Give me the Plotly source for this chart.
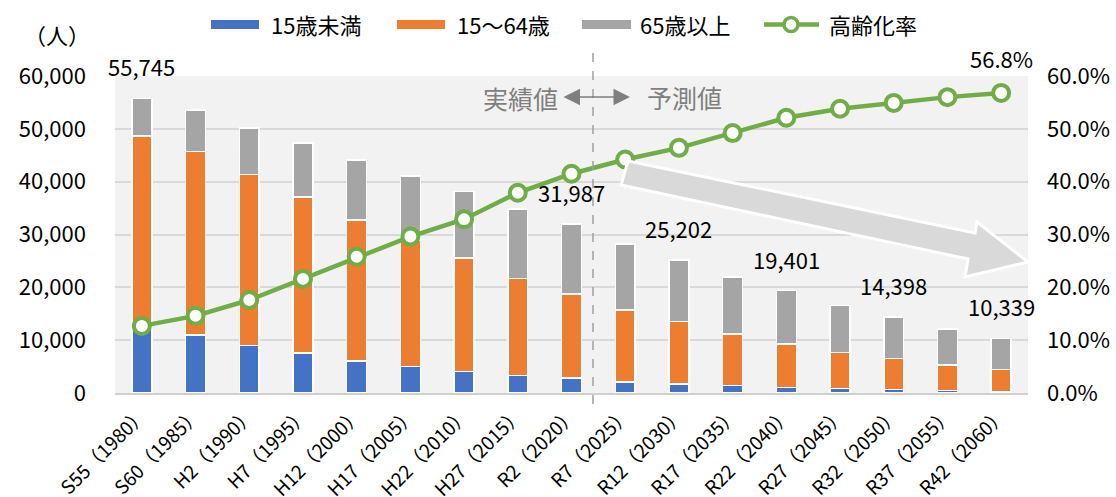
import plotly.graph_objects as go

# ---------------- data ----------------
categories = ["S55（1980）", "S60（1985）", "H2（1990）", "H7（1995）", "H12（2000）",
              "H17（2005）", "H22（2010）", "H27（2015）", "R2（2020）", "R7（2025）",
              "R12（2030）", "R17（2035）", "R22（2040）", "R27（2045）", "R32（2050）",
              "R37（2055）", "R42（2060）"]
young = [12300, 11020, 9000, 7560, 6100, 5030, 4080, 3330, 2840, 2080,
         1700, 1380, 1060, 810, 620, 490, 300]
working = [36365, 34712, 32365, 29523, 26622, 23890, 21492, 18306, 15872, 13639,
           11808, 9791, 8233, 6841, 5873, 4834, 4166]
elderly = [7080, 7818, 8835, 10217, 11378, 12160, 12538, 13204, 13275, 12451,
           11694, 10819, 10108, 8909, 7905, 6776, 5873]
rate = [12.7, 14.6, 17.6, 21.6, 25.8, 29.6, 32.9, 37.9, 41.5, 44.2,
        46.4, 49.2, 52.1, 53.8, 54.9, 56.0, 56.8]
labelled_idx = [0, 8, 10, 12, 14, 16]
series_names = ["15歳未満", "15～64歳", "65歳以上", "高齢化率"]

# ---------------- style ----------------
FONT = "Noto Sans CJK JP"
BLUE, ORANGE, GRAY, GREEN = "#4472C4", "#ED7D31", "#A5A5A5", "#70AD47"
W, H = 1116, 497
ML, MR, MT, MB = 115, 88, 76, 104
PW, PH = W - ML - MR, H - MT - MB


def px(X):
    return (X - ML) / PW


def py(Y):
    return (H - MB - Y) / PH


fig = go.Figure()
for vals, name, col in zip([young, working, elderly], series_names[:3], [BLUE, ORANGE, GRAY]):
    fig.add_trace(go.Bar(x=categories, y=vals, name=name, marker_color=col,
                         marker_line_color="white", marker_line_width=1.5,
                         showlegend=False))
fig.add_trace(go.Scatter(x=categories, y=rate, name=series_names[3], yaxis="y2",
                         mode="lines+markers",
                         line=dict(color=GREEN, width=4.5),
                         marker=dict(size=16, color="white", line=dict(color=GREEN, width=4)),
                         showlegend=False))

annotations = []
for i in labelled_idx:
    tot = young[i] + working[i] + elderly[i]
    annotations.append(dict(x=categories[i], y=tot, xref="x", yref="y", text=f"{tot:,}",
                            showarrow=False, xanchor="center", yanchor="middle", yshift=32,
                            font=dict(family=FONT, size=22, color="#000")))
annotations.append(dict(x=categories[-1], y=rate[-1], xref="x", yref="y2",
                        text=f"{rate[-1]:.1f}%", showarrow=False, xanchor="center",
                        yanchor="middle", yshift=35,
                        font=dict(family=FONT, size=22, color="#000")))
# unit
annotations.append(dict(x=px(57), y=py(34), xref="paper", yref="paper", text="（人）",
                        xanchor="center", yanchor="middle", showarrow=False,
                        font=dict(family=FONT, size=22, color="#000")))
# actual / forecast
annotations.append(dict(x=px(560), y=py(98), xref="paper", yref="paper", text="実績値",
                        xanchor="right", yanchor="middle", showarrow=False,
                        font=dict(family=FONT, size=25, color="#7f7f7f")))
annotations.append(dict(x=px(645), y=py(97), xref="paper", yref="paper", text="予測値",
                        xanchor="left", yanchor="middle", showarrow=False,
                        font=dict(family=FONT, size=25, color="#7f7f7f")))
annotations.append(dict(x=px(630), y=py(97), xref="paper", yref="paper", text="",
                        showarrow=True, ax=-68, ay=0, arrowside="end+start",
                        arrowhead=2, arrowsize=2.2, arrowwidth=1.5, arrowcolor="#7f7f7f"))

shapes = []
# dashed divider
shapes.append(dict(type="line", xref="x", yref="paper", x0=8.4, x1=8.4,
                   y0=py(53), y1=py(406), line=dict(color="#a0a0a0", width=1.5, dash="dash")))
# block arrow
pts = [(628, 161), (975, 233), (977, 222), (1028, 262), (965, 277), (968, 259), (621, 185)]
path = "M " + " L ".join(f"{px(a):.5f},{py(b):.5f}" for a, b in pts) + " Z"
shapes.append(dict(type="path", xref="paper", yref="paper", path=path,
                   fillcolor="#d9d9d9", line=dict(color="white", width=3), layer="above"))

# custom legend
leg_y = 24.5
for (x0, x1), col in zip([(211, 259), (397, 445), (582, 631)], [BLUE, ORANGE, GRAY]):
    shapes.append(dict(type="rect", xref="paper", yref="paper", x0=px(x0), x1=px(x1),
                       y0=py(leg_y - 4.5), y1=py(leg_y + 4.5), fillcolor=col, line_width=0))
shapes.append(dict(type="line", xref="paper", yref="paper", x0=px(764), x1=px(819),
                   y0=py(leg_y), y1=py(leg_y), line=dict(color=GREEN, width=4.5)))
shapes.append(dict(type="circle", xref="paper", yref="paper", x0=px(784), x1=px(798),
                   y0=py(leg_y - 7), y1=py(leg_y + 7), fillcolor="white",
                   line=dict(color=GREEN, width=3.5)))
for xs, name in zip([269, 455, 638, 827], series_names):
    annotations.append(dict(x=px(xs), y=py(leg_y), xref="paper", yref="paper", text=name,
                            xanchor="left", yanchor="middle", showarrow=False,
                            font=dict(family=FONT, size=22, color="#000")))

fig.update_layout(
    width=W, height=H,
    margin=dict(l=ML, r=MR, t=MT, b=MB, autoexpand=False),
    paper_bgcolor="white", plot_bgcolor="#f2f2f2",
    barmode="stack", bargap=0.63,
    font=dict(family=FONT, size=22, color="#000"),
    showlegend=False,
    xaxis=dict(type="category", range=[-0.5, len(categories) - 0.5], tickangle=-45,
               showgrid=False, ticks="",
               tickfont=dict(family=FONT, size=19), ticklabelstandoff=1,
               showline=True, linecolor="#d0d0d0", linewidth=2),
    yaxis=dict(range=[0, 60000], dtick=10000, tickformat=",", showgrid=True,
               gridcolor="#d9d9d9", gridwidth=2, zeroline=False, ticks="",
               tickfont=dict(family=FONT, size=22), ticklabelstandoff=28),
    yaxis2=dict(range=[0, 60], dtick=10, tickformat=".1f", ticksuffix="%",
                overlaying="y", side="right", showgrid=False, zeroline=False, ticks="",
                tickfont=dict(family=FONT, size=22), ticklabelstandoff=18),
    annotations=annotations, shapes=shapes,
)

fig.write_html("out.html", config={"displayModeBar": False},
               post_script="document.body.style.margin='0';document.body.style.overflow='hidden';")
